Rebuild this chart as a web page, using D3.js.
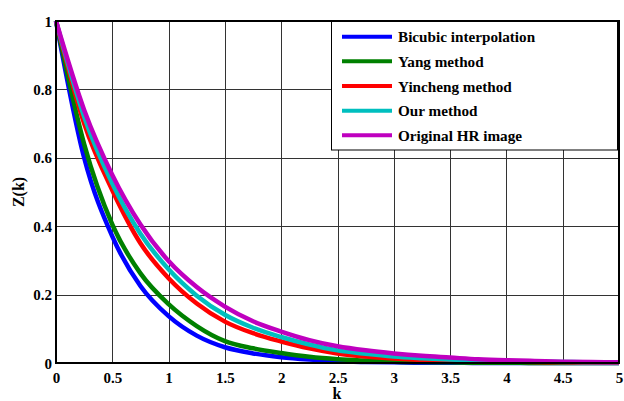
<!DOCTYPE html>
<html>
<head>
<meta charset="utf-8">
<script src="https://cdn.jsdelivr.net/npm/d3@7"></script>
<style>
  html, body { margin: 0; padding: 0; background: #fff; }
  svg { display: block; }
  text { font-family: "Liberation Serif", Tinos, "Times New Roman", Times, "Nimbus Roman", "DejaVu Serif", serif; font-weight: bold; fill: #000; }
</style>
</head>
<body>
<svg id="chart" width="624" height="401"></svg>
<script>
const kValues = [0, 0.25, 0.5, 0.75, 1, 1.25, 1.5, 1.75, 2, 2.25, 2.5, 2.75, 3, 3.25, 3.5, 3.75, 4, 4.25, 4.5, 4.75, 5];
const seriesNames = ["Bicubic interpolation", "Yang method", "Yincheng method", "Our method", "Original HR image"];
const seriesColors = ["#0000ff", "#008000", "#ff0000", "#00bfbf", "#bf00bf"];
const bicubic  = [1, 0.60, 0.37, 0.225, 0.137, 0.080, 0.046, 0.028, 0.017, 0.010, 0.005, 0.003, 0.002, 0.001, 0.001, 0, 0, 0, 0, 0, 0];
const yang     = [1, 0.64, 0.405, 0.262, 0.172, 0.108, 0.064, 0.043, 0.029, 0.018, 0.011, 0.007, 0.004, 0.003, 0.002, 0.001, 0.001, 0, 0, 0, 0];
const yincheng = [1, 0.70, 0.505, 0.350, 0.248, 0.174, 0.121, 0.087, 0.063, 0.043, 0.028, 0.019, 0.013, 0.009, 0.007, 0.005, 0.004, 0.003, 0.002, 0.001, 0.001];
const ours     = [1, 0.72, 0.525, 0.378, 0.274, 0.197, 0.141, 0.103, 0.076, 0.054, 0.037, 0.027, 0.019, 0.014, 0.010, 0.007, 0.005, 0.004, 0.003, 0.002, 0.002];
const original = [1, 0.74, 0.55, 0.405, 0.298, 0.222, 0.165, 0.122, 0.092, 0.067, 0.049, 0.037, 0.028, 0.021, 0.016, 0.011, 0.008, 0.006, 0.004, 0.003, 0.002];
const seriesValues = [bicubic, yang, yincheng, ours, original];
const xTicks = [0, 0.5, 1, 1.5, 2, 2.5, 3, 3.5, 4, 4.5, 5];
const yTicks = [0, 0.2, 0.4, 0.6, 0.8, 1];
const xTitle = "k";
const yTitle = "Z(k)";

(function () {
const FONT = '"Liberation Serif", Tinos, "Times New Roman", Times, "Nimbus Roman", "DejaVu Serif", serif';
const svg = d3.select("#chart");
const pL = 56, pR = 619, pT = 21, pB = 363;
const x = d3.scaleLinear().domain([0, 5]).range([pL, pR]);
const y = d3.scaleLinear().domain([0, 1]).range([pB, pT]);

// grid
const grid = svg.append("g");
grid.selectAll("line.gx").data(xTicks.slice(1, -1)).join("line")
  .attr("x1", d => Math.round(x(d)) + 0.5).attr("x2", d => Math.round(x(d)) + 0.5)
  .attr("y1", pT).attr("y2", pB)
  .attr("stroke", "#333").attr("stroke-width", 1);
grid.selectAll("line.gy").data(yTicks.slice(1, -1)).join("line")
  .attr("y1", d => Math.round(y(d)) + 0.5).attr("y2", d => Math.round(y(d)) + 0.5)
  .attr("x1", pL).attr("x2", pR)
  .attr("stroke", "#333").attr("stroke-width", 1);

// axes with labels
const xAxis = d3.axisBottom(x).tickValues(xTicks).tickFormat(d3.format("")).tickSize(0).tickPadding(0);
const yAxis = d3.axisLeft(y).tickValues(yTicks).tickFormat(d3.format("")).tickSize(0).tickPadding(4);
const gx = svg.append("g").attr("transform", `translate(0,${pB})`).call(xAxis);
const gy = svg.append("g").attr("transform", `translate(${pL},0)`).call(yAxis);
[gx, gy].forEach(g => {
  g.select(".domain").remove();
  g.selectAll("text").style("font-family", FONT).style("font-weight", "bold").style("font-size", "15px").attr("fill", "#000");
});
gx.selectAll("text").attr("dy", null).attr("y", 20);
gy.selectAll("text").attr("dy", "0.34em");

// lines
const line = d3.line().x((d, i) => x(kValues[i])).y(d => y(d)).curve(d3.curveMonotoneX);
svg.append("g").selectAll("path").data(seriesValues).join("path")
  .attr("d", d => line(d))
  .attr("fill", "none")
  .attr("stroke", (d, i) => seriesColors[i])
  .attr("stroke-width", 4.5)
  .attr("stroke-linejoin", "round");

// frame
svg.append("rect").attr("x", pL).attr("y", pT).attr("width", pR - pL).attr("height", pB - pT)
  .attr("fill", "none").attr("stroke", "#000").attr("stroke-width", 2);

// titles
svg.append("text").attr("x", 337).attr("y", 399).attr("text-anchor", "middle").style("font-size", "16px").text(xTitle);
svg.append("text").attr("transform", "translate(24,192) rotate(-90)").attr("text-anchor", "middle").style("font-size", "16px").text(yTitle);

// legend
const lg = svg.append("g");
lg.append("rect").attr("x", 331.5).attr("y", 21.5).attr("width", 286).attr("height", 128.5)
  .attr("fill", "#fff").attr("stroke", "#000").attr("stroke-width", 1);
const rows = lg.selectAll("g.row").data(seriesNames).join("g")
  .attr("transform", (d, i) => `translate(0,${36.7 + i * 24.65})`);
rows.append("line").attr("x1", 342).attr("x2", 392).attr("y1", 0).attr("y2", 0)
  .attr("stroke", (d, i) => seriesColors[i]).attr("stroke-width", 4);
rows.append("text").attr("x", 398).attr("y", 5.5).style("font-size", "15.2px").text(d => d);
})();
</script>
</body>
</html>
